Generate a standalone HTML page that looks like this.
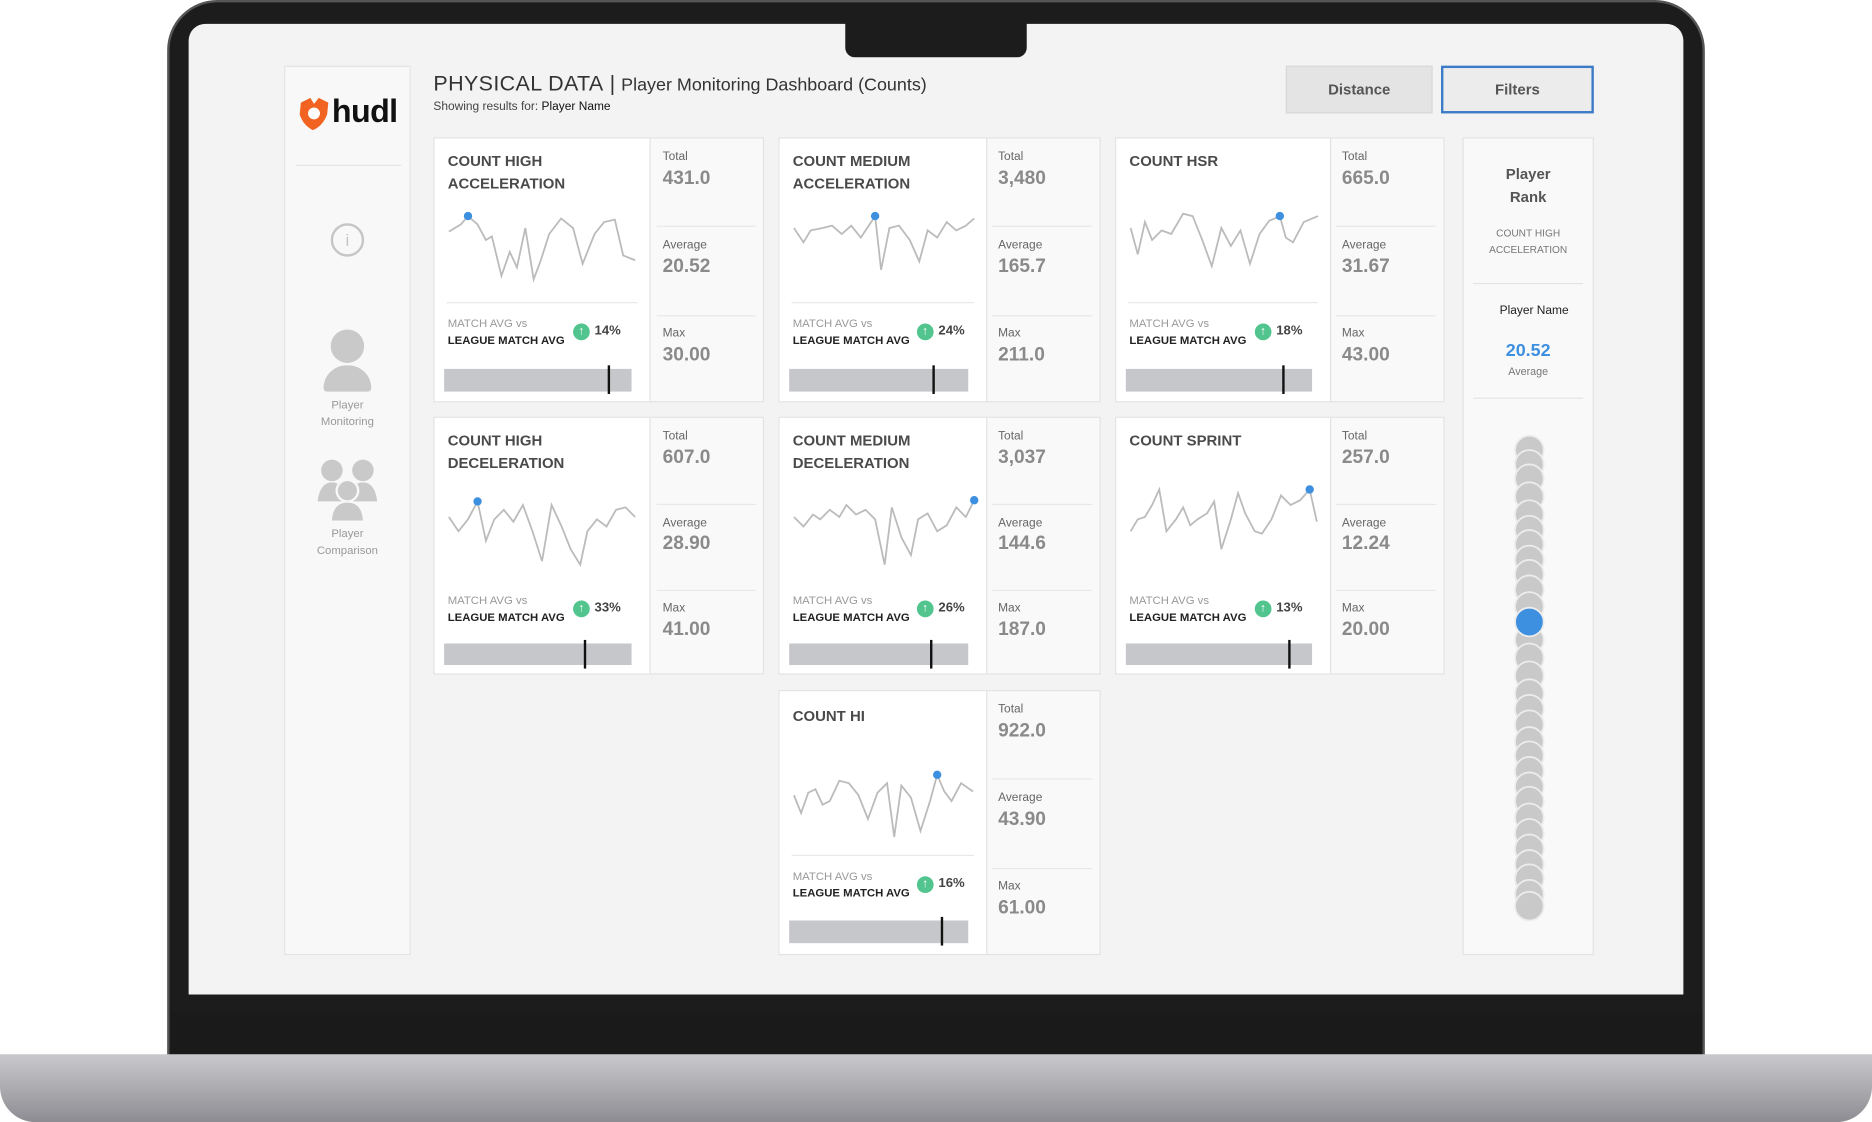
<!DOCTYPE html>
<html><head><meta charset="utf-8"><style>
*{margin:0;padding:0;box-sizing:border-box}
body{width:1872px;height:1122px;background:#fff;overflow:hidden;font-family:"Liberation Sans",sans-serif}
#w{position:absolute;left:0;top:0;width:1568px;height:940px;transform:scale(1.19388);transform-origin:0 0}
.a{position:absolute}
.card{position:absolute;background:#f9f9f9;border:1px solid #e2e2e2}
.l{position:absolute;left:0;top:0;bottom:0;background:#fff;border-right:1px solid #e2e2e2}
.t{position:absolute;left:11px;top:10px;font-size:12.5px;font-weight:bold;color:#4a4a4a;line-height:19px}
.dv{position:absolute;left:10px;right:10px;top:137px;height:1px;background:#e8e8e8}
.m1{position:absolute;left:11px;top:150px;font-size:9.5px;color:#999}
.m2{position:absolute;left:11px;top:164px;font-size:9.5px;color:#222;font-weight:bold}
.up{position:absolute;top:155px;width:14px;height:14px;border-radius:50%;background:#52c48e;color:#fff;font-size:10px;line-height:14px;text-align:center;font-weight:bold}
.pc{position:absolute;top:155px;font-size:11px;font-weight:bold;color:#444}
.bar{position:absolute;left:8px;top:193px;height:19px;background:#c5c7ca}
.mk{position:absolute;top:-3px;width:2px;height:24px;background:#111}
.r{position:absolute;top:0;right:0;bottom:0}
.lb{position:absolute;left:11px;font-size:10px;color:#666}
.vl{position:absolute;left:11px;font-size:16px;font-weight:bold;color:#8a8a8a}
.hl{position:absolute;left:6px;right:6px;height:1px;background:#e8e8e8}
svg.sp{position:absolute;left:12px;top:55px;overflow:visible}
.sp polyline{fill:none;stroke:#bbb;stroke-width:1.5}
.sp circle{fill:#3d8fe0}
</style></head><body><div id="w">
<!-- laptop -->
<div class="a" style="left:140px;top:0;width:1288px;height:900px;background:#1c1c1c;border-radius:42px 42px 0 0;border:2px solid #555"></div>
<div class="a" style="left:158px;top:20px;width:1252px;height:813px;background:#f3f3f3;border-radius:14px 14px 0 0"></div>
<div class="a" style="left:708px;top:18px;width:152px;height:30px;background:#1c1c1c;border-radius:0 0 8px 8px"></div>
<div class="a" style="left:143px;top:848px;width:1283px;height:36px;background:#1a1a1a"></div>
<div class="a" style="left:0;top:883px;width:1568px;height:57px;background:linear-gradient(#c9c9cd,#a5a5aa 60%,#8c8c92);border-radius:0 0 30px 30px"></div>
<!-- sidebar -->
<div class="a" style="left:238px;top:55px;width:106px;height:745px;background:#f8f8f8;border:1px solid #e4e4e4"></div>
<svg class="a" style="left:248px;top:80px" width="30" height="30" viewBox="0 0 30 30"><path d="M4 6 L12 2 L15 7 L19 2 L27 6 L26 16 Q22 26 14 29 Q6 25 3 16Z" fill="#f26322"/><circle cx="15" cy="15" r="5" fill="#fff"/></svg>
<div class="a" style="left:278px;top:78px;font-size:27px;font-weight:bold;color:#111;letter-spacing:-0.5px">hudl</div>
<div class="a" style="left:248px;top:138px;width:88px;height:1px;background:#e4e4e4"></div>
<div class="a" style="left:277px;top:187px;width:28px;height:28px;border:2px solid #c5c5c5;border-radius:50%;color:#c5c5c5;font-size:14px;text-align:center;line-height:24px">i</div>
<div class="a" style="left:277px;top:276px;width:28px;height:28px;border-radius:50%;background:#c9c9c9"></div>
<div class="a" style="left:271px;top:306px;width:40px;height:22px;border-radius:20px 20px 3px 3px;background:#c9c9c9"></div>
<div class="a" style="left:238px;top:333px;width:106px;text-align:center;font-size:9.5px;color:#999;line-height:14px">Player<br>Monitoring</div>
<svg class="a" style="left:264px;top:384px" width="54" height="52"><g fill="#c9c9c9"><circle cx="14" cy="10" r="9"/><circle cx="40" cy="10" r="9"/><path d="M2 36 Q4 20 14 20 Q22 20 24 30 L24 36Z"/><path d="M52 36 Q50 20 40 20 Q32 20 30 30 L30 36Z"/><circle cx="27" cy="27" r="9" stroke="#f8f8f8" stroke-width="2"/><path d="M14 52 Q15 37 27 37 Q39 37 40 52Z"/></g></svg>
<div class="a" style="left:238px;top:441px;width:106px;text-align:center;font-size:9.5px;color:#999;line-height:14px">Player<br>Comparison</div>
<!-- header -->
<div class="a" style="left:363px;top:60px;font-size:18px;color:#333;white-space:nowrap"><b style="font-weight:normal;letter-spacing:0.3px">PHYSICAL DATA</b> | <span style="font-size:15px">Player Monitoring Dashboard (Counts)</span></div>
<div class="a" style="left:363px;top:84px;font-size:10px;color:#444">Showing results for: <span style="color:#111">Player Name</span></div>
<div class="a" style="left:1077px;top:55px;width:123px;height:40px;background:#e4e4e4;border:1px solid #d8d8d8;font-size:12.5px;font-weight:bold;color:#555;text-align:center;line-height:38px">Distance</div>
<div class="a" style="left:1207px;top:55px;width:128px;height:40px;background:#ececec;border:2px solid #3c7cc7;font-size:12.5px;font-weight:bold;color:#555;text-align:center;line-height:36px">Filters</div>

<!-- Row 1 -->
<div class="card" style="left:363px;top:115px;width:277px;height:222px"><div class="l" style="width:181px">
<div class="t">COUNT HIGH<br>ACCELERATION</div>
<svg class="sp" width="160" height="70"><polyline points="0,23 10,17 16,10 24,17 31,30 36,27 44,60 51,40 57,53 64,20 71,63 77,47 84,25 94,12 104,20 112,50 122,25 130,15 139,13 146,43 156,47"/><circle cx="16" cy="10" r="3.5"/></svg>
<div class="dv"></div><div class="m1">MATCH AVG vs</div><div class="m2">LEAGUE MATCH AVG</div><div class="up" style="left:116px">↑</div><div class="pc" style="left:134px">14%</div>
<div class="bar" style="width:157px"><div class="mk" style="left:137px"></div></div></div>
<div class="r" style="width:95px"><div class="lb" style="top:10px">Total</div><div class="vl" style="top:25px">431.0</div><div class="hl" style="top:73px"></div><div class="lb" style="top:84px">Average</div><div class="vl" style="top:99px">20.52</div><div class="hl" style="top:148px"></div><div class="lb" style="top:158px">Max</div><div class="vl" style="top:173px">30.00</div></div></div>

<div class="card" style="left:652px;top:115px;width:270px;height:222px"><div class="l" style="width:174px">
<div class="t">COUNT MEDIUM<br>ACCELERATION</div>
<svg class="sp" width="160" height="70"><polyline points="0,20 8,32 14,22 24,20 32,18 40,25 48,18 56,28 68,10 73,55 80,20 88,18 97,30 105,48 112,22 120,28 128,15 136,22 144,18 151,12"/><circle cx="68" cy="10" r="3.5"/></svg>
<div class="dv"></div><div class="m1">MATCH AVG vs</div><div class="m2">LEAGUE MATCH AVG</div><div class="up" style="left:115px">↑</div><div class="pc" style="left:133px">24%</div>
<div class="bar" style="width:150px"><div class="mk" style="left:120px"></div></div></div>
<div class="r" style="width:96px"><div class="lb" style="top:10px">Total</div><div class="vl" style="top:25px">3,480</div><div class="hl" style="top:73px"></div><div class="lb" style="top:84px">Average</div><div class="vl" style="top:99px">165.7</div><div class="hl" style="top:148px"></div><div class="lb" style="top:158px">Max</div><div class="vl" style="top:173px">211.0</div></div></div>

<div class="card" style="left:934px;top:115px;width:276px;height:222px"><div class="l" style="width:180px">
<div class="t">COUNT HSR</div>
<svg class="sp" width="160" height="70"><polyline points="0,20 6,42 12,15 18,30 26,22 34,25 44,8 52,10 60,30 68,52 76,20 84,35 92,22 100,50 108,25 116,14 125,10 130,28 136,32 145,15 157,10"/><circle cx="125" cy="10" r="3.5"/></svg>
<div class="dv"></div><div class="m1">MATCH AVG vs</div><div class="m2">LEAGUE MATCH AVG</div><div class="up" style="left:116px">↑</div><div class="pc" style="left:134px">18%</div>
<div class="bar" style="width:156px"><div class="mk" style="left:131px"></div></div></div>
<div class="r" style="width:96px"><div class="lb" style="top:10px">Total</div><div class="vl" style="top:25px">665.0</div><div class="hl" style="top:73px"></div><div class="lb" style="top:84px">Average</div><div class="vl" style="top:99px">31.67</div><div class="hl" style="top:148px"></div><div class="lb" style="top:158px">Max</div><div class="vl" style="top:173px">43.00</div></div></div>

<!-- Row 2 -->
<div class="card" style="left:363px;top:349px;width:277px;height:216px"><div class="l" style="width:181px">
<div class="t">COUNT HIGH<br>DECELERATION</div>
<svg class="sp" width="160" height="70" style="top:55px"><polyline points="0,28 8,40 16,30 24,15 31,48 38,30 46,22 54,32 62,18 70,40 78,65 86,18 94,35 102,55 110,68 116,40 124,30 132,36 140,22 148,20 156,28"/><circle cx="24" cy="15" r="3.5"/></svg>
<div class="m1" style="top:148px">MATCH AVG vs</div><div class="m2" style="top:162px">LEAGUE MATCH AVG</div><div class="up" style="left:116px;top:153px">↑</div><div class="pc" style="left:134px;top:153px">33%</div>
<div class="bar" style="width:157px;top:189px;height:18px"><div class="mk" style="left:117px"></div></div></div>
<div class="r" style="width:95px"><div class="lb" style="top:10px">Total</div><div class="vl" style="top:25px">607.0</div><div class="hl" style="top:72px"></div><div class="lb" style="top:83px">Average</div><div class="vl" style="top:97px">28.90</div><div class="hl" style="top:144px"></div><div class="lb" style="top:154px">Max</div><div class="vl" style="top:169px">41.00</div></div></div>

<div class="card" style="left:652px;top:349px;width:270px;height:216px"><div class="l" style="width:174px">
<div class="t">COUNT MEDIUM<br>DECELERATION</div>
<svg class="sp" width="160" height="70" style="top:55px"><polyline points="0,28 8,36 16,26 22,30 30,22 38,28 44,18 52,26 60,22 68,30 76,68 82,20 90,45 98,60 104,30 112,25 120,40 128,35 136,20 144,28 151,14"/><circle cx="151" cy="14" r="3.5"/></svg>
<div class="m1" style="top:148px">MATCH AVG vs</div><div class="m2" style="top:162px">LEAGUE MATCH AVG</div><div class="up" style="left:115px;top:153px">↑</div><div class="pc" style="left:133px;top:153px">26%</div>
<div class="bar" style="width:150px;top:189px;height:18px"><div class="mk" style="left:118px"></div></div></div>
<div class="r" style="width:96px"><div class="lb" style="top:10px">Total</div><div class="vl" style="top:25px">3,037</div><div class="hl" style="top:72px"></div><div class="lb" style="top:83px">Average</div><div class="vl" style="top:97px">144.6</div><div class="hl" style="top:144px"></div><div class="lb" style="top:154px">Max</div><div class="vl" style="top:169px">187.0</div></div></div>

<div class="card" style="left:934px;top:349px;width:276px;height:216px"><div class="l" style="width:180px">
<div class="t">COUNT SPRINT</div>
<svg class="sp" width="160" height="70" style="top:55px"><polyline points="0,40 6,30 12,28 18,18 24,5 30,40 38,30 44,20 50,35 56,30 64,25 70,15 76,55 84,30 90,8 96,25 104,40 110,42 118,30 126,10 134,18 142,14 150,5 156,32"/><circle cx="150" cy="5" r="3.5"/></svg>
<div class="m1" style="top:148px">MATCH AVG vs</div><div class="m2" style="top:162px">LEAGUE MATCH AVG</div><div class="up" style="left:116px;top:153px">↑</div><div class="pc" style="left:134px;top:153px">13%</div>
<div class="bar" style="width:156px;top:189px;height:18px"><div class="mk" style="left:136px"></div></div></div>
<div class="r" style="width:96px"><div class="lb" style="top:10px">Total</div><div class="vl" style="top:25px">257.0</div><div class="hl" style="top:72px"></div><div class="lb" style="top:83px">Average</div><div class="vl" style="top:97px">12.24</div><div class="hl" style="top:144px"></div><div class="lb" style="top:154px">Max</div><div class="vl" style="top:169px">20.00</div></div></div>

<!-- Row 3 -->
<div class="card" style="left:652px;top:578px;width:270px;height:222px"><div class="l" style="width:174px">
<div class="t" style="top:12px">COUNT HI</div>
<svg class="sp" width="160" height="70" style="top:57px"><polyline points="0,30 6,45 12,28 18,25 24,38 30,35 38,18 46,20 54,30 62,50 70,28 78,20 84,65 90,22 98,32 106,60 114,35 120,13 126,27 132,35 140,20 150,27"/><circle cx="120" cy="13" r="3.5"/></svg>
<div class="dv"></div><div class="m1" style="top:150px">MATCH AVG vs</div><div class="m2" style="top:164px">LEAGUE MATCH AVG</div><div class="up" style="left:115px">↑</div><div class="pc" style="left:133px">16%</div>
<div class="bar" style="width:150px;top:192px"><div class="mk" style="left:127px"></div></div></div>
<div class="r" style="width:96px"><div class="lb" style="top:10px">Total</div><div class="vl" style="top:25px">922.0</div><div class="hl" style="top:73px"></div><div class="lb" style="top:84px">Average</div><div class="vl" style="top:99px">43.90</div><div class="hl" style="top:148px"></div><div class="lb" style="top:158px">Max</div><div class="vl" style="top:173px">61.00</div></div></div>

<!-- Rank panel -->
<div class="card" style="left:1225px;top:115px;width:110px;height:685px;background:#f9f9f9">
<div class="a" style="left:0;top:21px;width:108px;text-align:center;font-size:12.5px;font-weight:bold;color:#555;line-height:19px">Player<br>Rank</div>
<div class="a" style="left:0;top:72px;width:108px;text-align:center;font-size:8.5px;color:#777;line-height:14px">COUNT HIGH<br>ACCELERATION</div>
<div class="a" style="left:8px;top:121px;width:92px;height:1px;background:#e4e4e4"></div>
<div class="a" style="left:0;top:139px;width:118px;text-align:center;font-size:10px;color:#222">Player Name</div>
<div class="a" style="left:0;top:169px;width:108px;text-align:center;font-size:15px;font-weight:bold;color:#3d8fe0">20.52</div>
<div class="a" style="left:0;top:190px;width:108px;text-align:center;font-size:9px;color:#777">Average</div>
<div class="a" style="left:8px;top:217px;width:92px;height:1px;background:#e4e4e4"></div>
<svg class="a" style="left:30px;top:245px" width="50" height="415"><g fill="#c9c9c9" stroke="#ececec" stroke-width="1.5">
<circle cx="25" cy="16" r="12"/><circle cx="25" cy="28" r="12"/><circle cx="25" cy="40" r="12"/><circle cx="25" cy="55" r="12"/><circle cx="25" cy="70" r="12"/><circle cx="25" cy="83" r="12"/><circle cx="25" cy="95" r="12"/><circle cx="25" cy="108" r="12"/><circle cx="25" cy="120" r="12"/><circle cx="25" cy="133" r="12"/><circle cx="25" cy="147" r="12"/><circle cx="25" cy="175" r="12"/><circle cx="25" cy="190" r="12"/><circle cx="25" cy="205" r="12"/><circle cx="25" cy="220" r="12"/><circle cx="25" cy="233" r="12"/><circle cx="25" cy="246" r="12"/><circle cx="25" cy="260" r="12"/><circle cx="25" cy="272" r="12"/><circle cx="25" cy="285" r="12"/><circle cx="25" cy="298" r="12"/><circle cx="25" cy="310" r="12"/><circle cx="25" cy="324" r="12"/><circle cx="25" cy="337" r="12"/><circle cx="25" cy="350" r="12"/><circle cx="25" cy="363" r="12"/><circle cx="25" cy="375" r="12"/><circle cx="25" cy="388" r="12"/><circle cx="25" cy="398" r="12"/></g>
<circle cx="25" cy="160" r="12" fill="#3d8fe0" stroke="#ececec" stroke-width="1.5"/></svg>
</div>
</div></body></html>
